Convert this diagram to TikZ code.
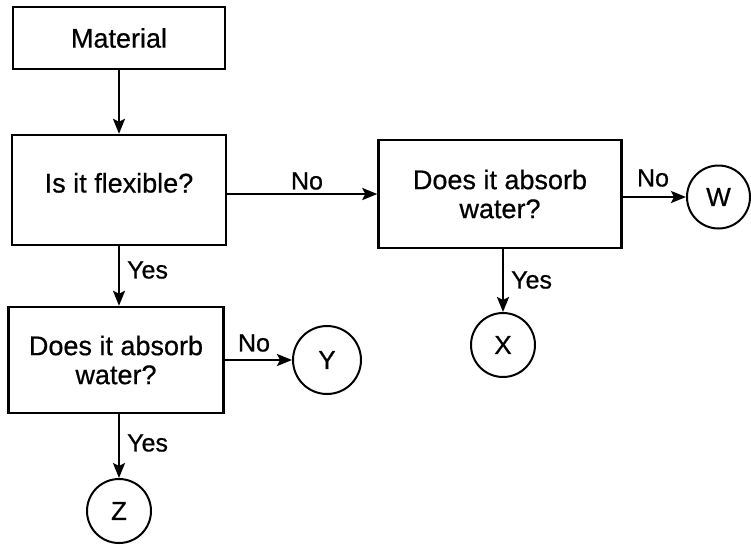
\documentclass[tikz,border=0pt]{standalone}
\usepackage{fontspec}
\setmainfont{Liberation Sans}
\newfontfamily\scanfont{Liberation Sans}[FakeBold=0.6]
\usetikzlibrary{arrows.meta}
\begin{document}
\begin{tikzpicture}[x=1pt,y=-1pt,
  box/.style={draw, line width=2.4pt, inner sep=0pt, font=\scanfont\fontsize{27}{29}\selectfont},
  circ/.style={draw, circle, line width=2pt, inner sep=0pt, font=\scanfont\fontsize{26}{29}\selectfont},
  lab/.style={font=\scanfont\fontsize{25}{26}\selectfont, inner sep=0pt},
  arr/.style={line width=2.4pt, -{Stealth[length=15pt,width=12pt,inset=3pt]}}]
\useasboundingbox (0,0) rectangle (751,544);
% boxes
\node[box, minimum width=212pt, minimum height=62pt] (mat) at (119,38) {Material};
\node[box, minimum width=214pt, minimum height=110pt, text height=19pt, text depth=14pt] (flex) at (119,190) {Is it flexible?};
\node[box, align=center, minimum width=243pt, minimum height=108pt] (abs1) at (500,194) {Does it absorb\\water?};
\node[box, align=center, minimum width=215pt, minimum height=106pt] (abs2) at (116,360) {Does it absorb\\water?};
% circles
\node[circ, minimum size=63pt] (W) at (718.5,197) {W};
\node[circ, minimum size=64pt] (X) at (503,345) {X};
\node[circ, minimum size=68pt] (Y) at (327,360) {Y};
\node[circ, minimum size=64pt] (Z) at (119,511) {Z};
% connectors
\draw[arr] (mat) -- (flex);
\draw[arr] (flex.east |- abs1.west) -- (abs1.west);
\draw[arr] (abs1.east |- W.west) -- (W.west);
\draw[arr] (abs1.south -| X.north) -- (X.north);
\draw[arr] (flex.south) -- (flex.south |- abs2.north);
\draw[arr] (abs2.east |- Y.west) -- (Y.west);
\draw[arr] (abs2.south -| Z.north) -- (Z.north);
% labels
\node[lab] (no1) at (307,181) {No};
\node[lab] (no2) at (653,178) {No};
\node[lab] (no3) at (254,343) {No};
\node[lab, anchor=west] (yes1) at (127,270) {Yes};
\node[lab, anchor=west] (yes2) at (511,280) {Yes};
\node[lab, anchor=west] (yes3) at (127,443) {Yes};
\end{tikzpicture}
\end{document}
